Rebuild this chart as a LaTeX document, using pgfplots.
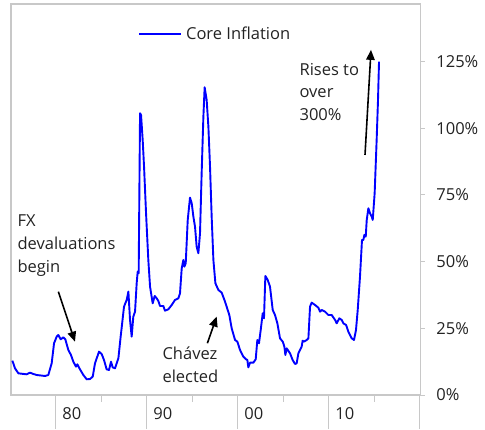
\documentclass[border=0pt]{standalone}
\usepackage{pgfplots}
\pgfplotsset{compat=1.18}
\usepackage{fontspec}
\setmainfont{Open Sans}
\usetikzlibrary{arrows.meta}
\definecolor{framegray}{RGB}{200,200,200}
\definecolor{txt}{RGB}{35,35,35}
\begin{document}
\begin{tikzpicture}[font=\fontsize{16.5}{22.7}\selectfont]
\begin{axis}[
  scale only axis, width=409.7pt, height=391pt,
  xmin=1975.09, xmax=2020.11, ymin=0, ymax=146.6,
  axis line style={framegray, line width=1.4pt},
  xtick=\empty,
  ytick={0,25,50,75,100,125},
  yticklabels={0\%,25\%,50\%,75\%,100\%,125\%},
  ytick pos=right, yticklabel pos=right,
  tick align=outside, major tick length=4pt,
  tick style={framegray, line width=1pt},
  yticklabel style={anchor=west, inner sep=0pt, text=txt, xshift=11.5pt},
  clip=false,
  legend style={draw=none, fill=none, at={(rel axis cs:0.31,0.923)}, anchor=west, inner sep=0pt, text=txt, font=\fontsize{16.5}{20}\selectfont},
  legend image code/.code={\draw[#1] (0pt,0pt) -- (42pt,0pt);},
  legend cell align=left,
  legend style={/tikz/every odd column/.append style={column sep=2pt}},
]
\coordinate (ll) at (rel axis cs:0,0);
\addplot[blue, line width=1.9pt, line join=round] coordinates {
(1975.24,12.88) (1975.53,10.0) (1975.90,8.13) (1976.81,7.75) (1977.18,8.38)
(1977.55,7.88) (1977.91,7.5) (1978.83,7.13) (1979.19,7.5) (1979.56,11.88)
(1979.82,19.38) (1980.11,21.88) (1980.29,22.5) (1980.55,20.88) (1980.84,21.63)
(1981.06,20.88) (1981.39,16.88) (1981.68,15) (1981.94,12.5) (1982.23,10.63)
(1982.38,11.5) (1982.67,9.63) (1983.04,7.5) (1983.41,5.88) (1983.77,6)
(1984.07,6.88) (1984.32,11.88) (1984.76,16.25) (1985.05,15.38) (1985.31,13.13)
(1985.60,9.63) (1985.86,9.38) (1986.08,12.5) (1986.26,10.38) (1986.52,10)
(1986.89,13.75) (1987.14,21.88) (1987.51,33.13) (1987.80,35.63) (1987.99,38.75)
(1988.17,28.13) (1988.35,21.88) (1988.53,29.38) (1988.72,31.25) (1988.90,41.88)
(1989.01,46.25) (1989.12,45.63) (1989.27,105.63) (1989.38,105) (1989.56,95.63)
(1989.71,85.63) (1989.93,68.13) (1990.18,50.63) (1990.37,40.63) (1990.66,34.38)
(1990.88,37.13) (1991.10,36.25) (1991.28,35.25) (1991.47,33.38) (1991.83,33.38)
(1992.01,31.63) (1992.38,32.13) (1992.75,33.75) (1993.11,35.63) (1993.48,36.25)
(1993.66,38.13) (1993.85,47.5) (1994.03,50.63) (1994.14,48.13) (1994.29,49.38)
(1994.51,65.63) (1994.76,74) (1994.95,71.88) (1995.13,66.88) (1995.31,63.13)
(1995.49,55.63) (1995.68,53.13) (1995.86,60.63) (1996.04,83.13) (1996.23,104.38)
(1996.37,115.38) (1996.59,110.63) (1996.78,100.63) (1996.96,85.63) (1997.14,66.88)
(1997.33,50.63) (1997.55,41.88) (1997.88,39.38) (1998.24,38.38) (1998.61,35)
(1999.08,30) (1999.34,25) (1999.71,20.63) (1999.96,20) (2000.26,16.88)
(2000.62,14.38) (2000.92,13.38) (2001.06,13.13) (2001.17,10.38) (2001.36,12.13)
(2001.72,12.13) (2001.98,13.38) (2002.16,20.63) (2002.34,19.38) (2002.53,24.38)
(2002.75,30.63) (2002.89,28.75) (2003.04,44.63) (2003.30,43.13) (2003.55,40.63)
(2003.85,31.88) (2004.10,30) (2004.36,26.88) (2004.65,21.25) (2004.95,20)
(2005.13,18.13) (2005.24,15) (2005.38,17.5) (2005.75,15.63) (2006.04,13.13)
(2006.30,11.63) (2006.48,11.88) (2006.67,15.63) (2007.03,18.13) (2007.14,20.38)
(2007.29,20) (2007.58,20.63) (2007.77,21.25) (2007.95,33.13) (2008.13,34.63)
(2008.50,33.75) (2008.86,32.75) (2009.05,31.25) (2009.23,31.88) (2009.60,31.25)
(2009.96,30) (2010.33,30) (2010.70,28.13) (2010.88,26.88) (2011.17,28.75)
(2011.43,28.13) (2011.61,26.88) (2011.91,26.25) (2012.16,23.75) (2012.53,21.25)
(2012.78,20.63) (2013.00,24.38) (2013.19,31.88) (2013.44,44.38) (2013.66,58.13)
(2013.81,58.13) (2013.92,60) (2014.07,59.38) (2014.18,65.63) (2014.36,70)
(2014.54,68.13) (2014.73,66.88) (2014.84,65.63) (2015.05,75.63) (2015.27,95.63)
(2015.42,110.63) (2015.53,125)
};
\addlegendentry{Core Inflation}
% x-axis decade separators and minor ticks
\pgfplotsinvokeforeach{1980,1990,2000,2010,2020}{
  \draw[framegray, line width=1.1pt] (axis cs:#1,0) -- (axis cs:#1,-12.75);
}
\pgfplotsinvokeforeach{1985,1995,2005,2015}{
  \draw[framegray, line width=1.1pt] (axis cs:#1,0) -- (axis cs:#1,-2.6);
}
\node[anchor=west, inner sep=0pt, text=txt] at (axis cs:1980.71,-7.12) {80};
\node[anchor=west, inner sep=0pt, text=txt] at (axis cs:1990.71,-7.12) {90};
\node[anchor=west, inner sep=0pt, text=txt] at (axis cs:2000.71,-7.12) {00};
\node[anchor=west, inner sep=0pt, text=txt] at (axis cs:2010.71,-7.12) {10};
% annotations
\node[anchor=west, align=left, inner sep=0pt, text=txt] at (axis cs:1975.79,56) {FX\\devaluations\\begin};
\node[anchor=west, align=left, inner sep=0pt, text=txt] at (axis cs:1991.72,11.25) {Chávez\\elected};
\node[anchor=west, align=left, inner sep=0pt, text=txt] at (axis cs:2006.78,113.6) {Rises to\\over\\300\%};
\draw[-{Triangle[length=10pt,width=8.5pt]}, line width=1.6pt] (axis cs:1980.29,38.75) -- (axis cs:1982.12,20);
\draw[-{Triangle[length=10pt,width=8.5pt]}, line width=1.6pt] (axis cs:1996.67,19.4) -- (axis cs:1997.69,29.4);
\draw[-{Triangle[length=10pt,width=8.5pt]}, line width=1.6pt] (axis cs:2013.99,90) -- (axis cs:2014.65,129.4);
\end{axis}
\pgfresetboundingbox
\path (ll) ++(-11pt,-34pt) rectangle ++(485pt,429pt);
\end{tikzpicture}
\end{document}
